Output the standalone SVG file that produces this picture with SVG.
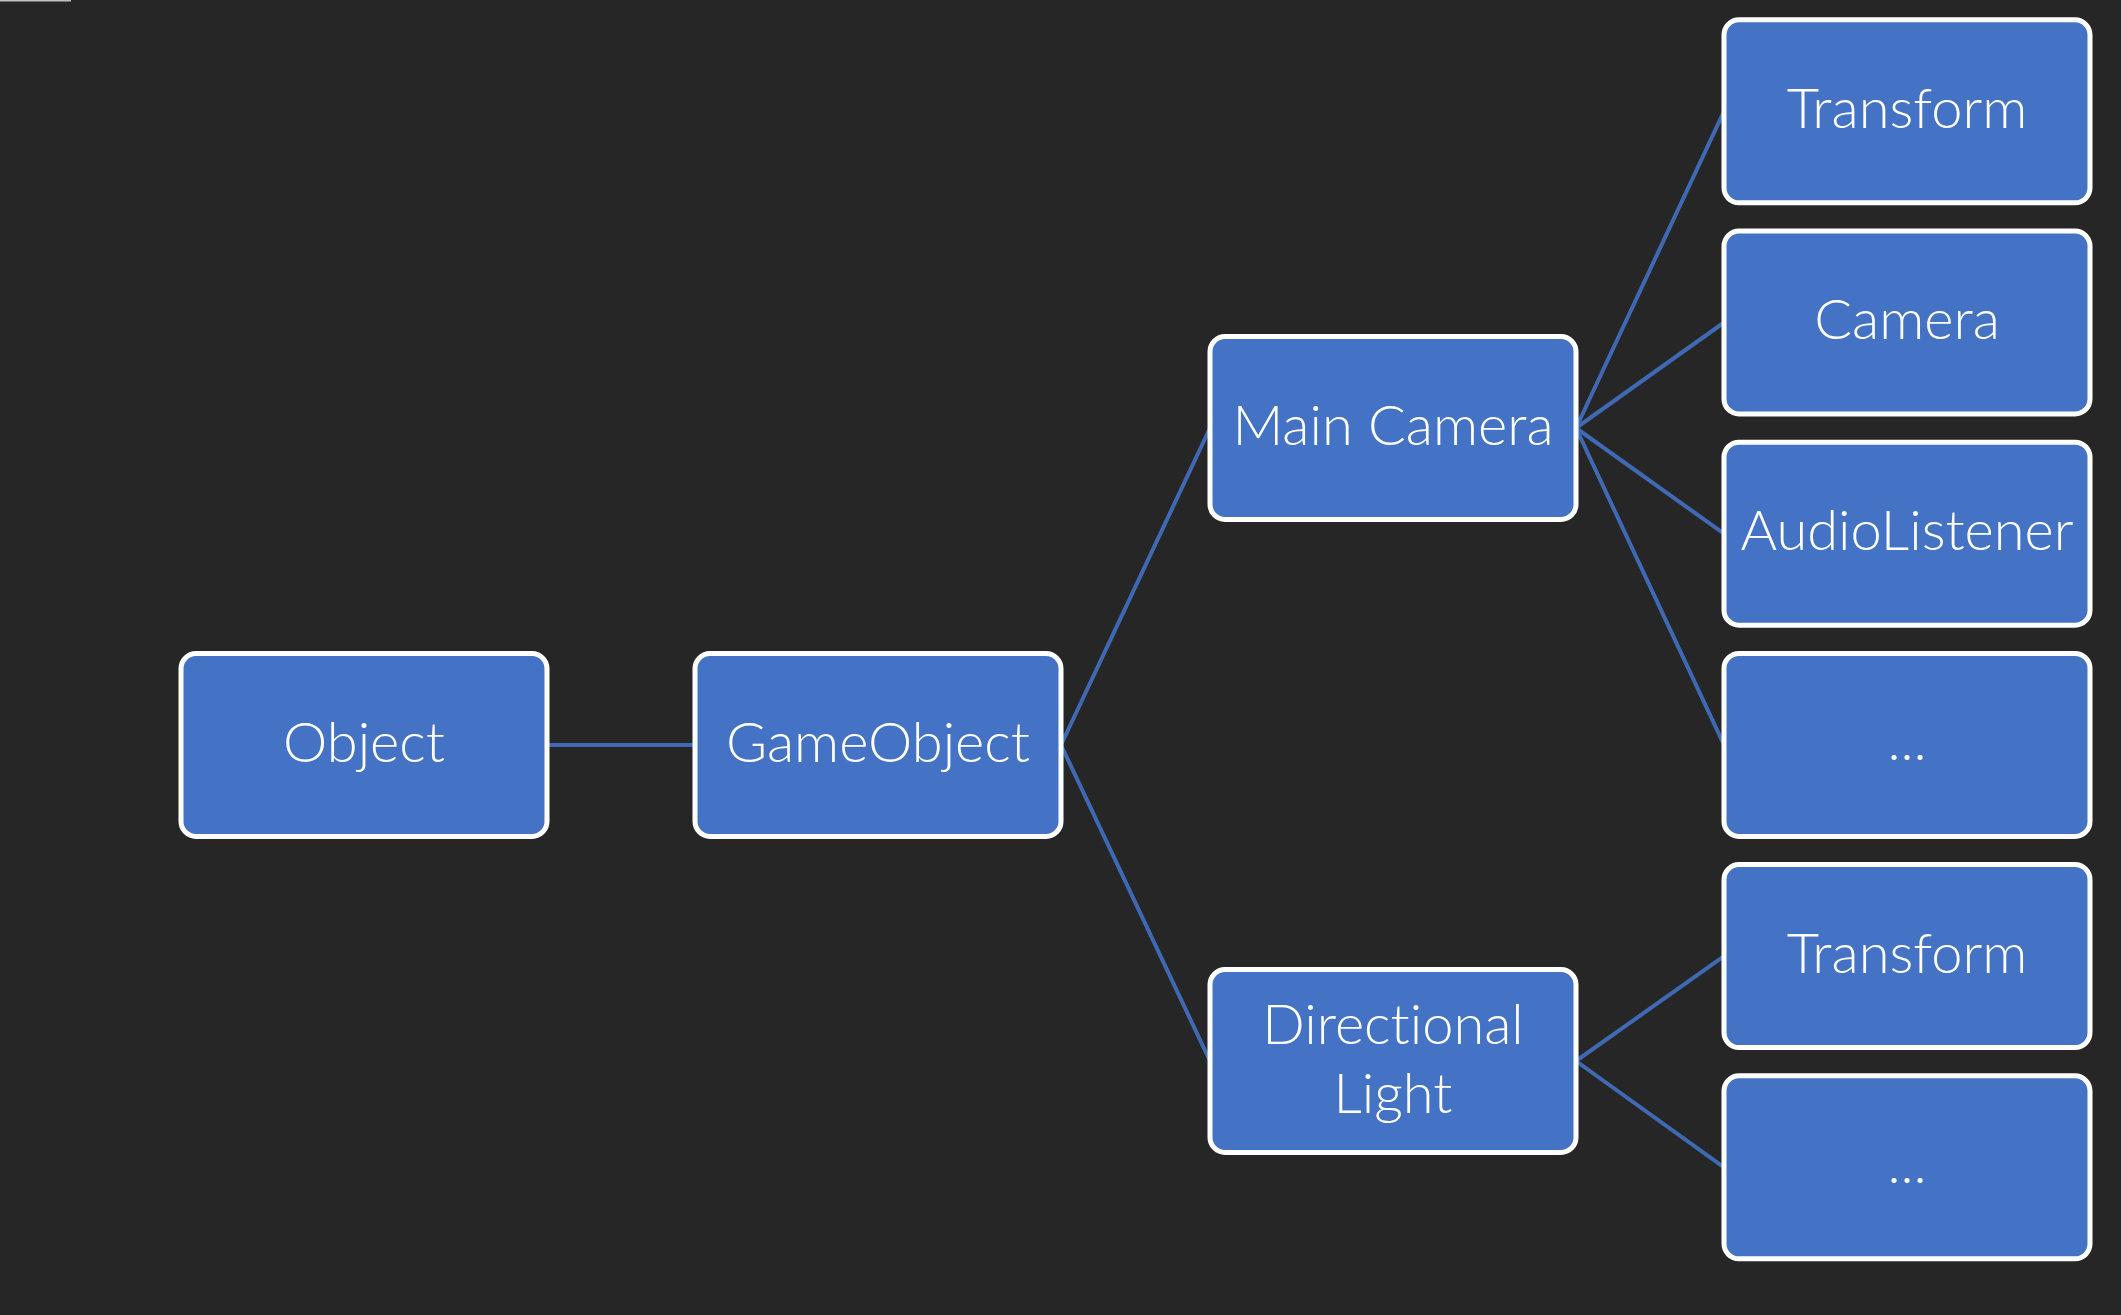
<svg xmlns="http://www.w3.org/2000/svg" width="2121" height="1315" viewBox="0 0 2121 1315">
  <style>
    .box { fill: #4472c4; stroke: #ffffff; stroke-width: 5; }
    .lbl { font-family: Lato, "Liberation Sans", "Noto Sans", sans-serif; font-weight: 300; font-size: 56px; fill: #ffffff; text-anchor: middle; font-variant-ligatures: none; }
    .conn line { stroke: #3f69b3; stroke-width: 4; stroke-linecap: butt; }
  </style>
  <rect x="0" y="0" width="2121" height="1315" fill="#262626"/>
  <rect x="0" y="0" width="71" height="1.5" fill="#bfbfbf"/>

  <g id="connectors" class="conn">
    <line x1="547" y1="745" x2="695" y2="745"/>
    <line x1="1061" y1="745" x2="1210" y2="428"/>
    <line x1="1061" y1="745" x2="1210" y2="1061"/>
    <line x1="1576" y1="428" x2="1724" y2="111.3"/>
    <line x1="1576" y1="428" x2="1724" y2="322.5"/>
    <line x1="1576" y1="428" x2="1724" y2="533.7"/>
    <line x1="1576" y1="428" x2="1724" y2="744.9"/>
    <line x1="1576" y1="1061" x2="1724" y2="956.1"/>
    <line x1="1576" y1="1061" x2="1724" y2="1167.3"/>
  </g>

  <g id="node-object">
    <rect class="box" x="181" y="653.5" width="366" height="183" rx="15"/>
    <text class="lbl" x="364" y="762">Object</text>
  </g>
  <g id="node-gameobject">
    <rect class="box" x="695" y="653.5" width="366" height="183" rx="15"/>
    <text class="lbl" x="878" y="762">GameObject</text>
  </g>
  <g id="node-maincamera">
    <rect class="box" x="1210" y="336.5" width="366" height="183" rx="15"/>
    <text class="lbl" x="1393" y="445">Main Camera</text>
  </g>
  <g id="node-directionallight">
    <rect class="box" x="1210" y="969.5" width="366" height="183" rx="15"/>
    <text class="lbl" x="1393" y="1044">Directional</text>
    <text class="lbl" x="1393" y="1113">Light</text>
  </g>
  <g id="node-transform-1">
    <rect class="box" x="1724" y="19.8" width="366" height="183" rx="15"/>
    <text class="lbl" x="1907" y="128">Transform</text>
  </g>
  <g id="node-camera">
    <rect class="box" x="1724" y="231" width="366" height="183" rx="15"/>
    <text class="lbl" x="1907" y="339">Camera</text>
  </g>
  <g id="node-audiolistener">
    <rect class="box" x="1724" y="442.2" width="366" height="183" rx="15"/>
    <text class="lbl" x="1907" y="550">AudioListener</text>
  </g>
  <g id="node-more-1">
    <rect class="box" x="1724" y="653.4" width="366" height="183" rx="15"/>
    <text class="lbl" x="1907" y="760">...</text>
  </g>
  <g id="node-transform-2">
    <rect class="box" x="1724" y="864.6" width="366" height="183" rx="15"/>
    <text class="lbl" x="1907" y="973">Transform</text>
  </g>
  <g id="node-more-2">
    <rect class="box" x="1724" y="1075.8" width="366" height="183" rx="15"/>
    <text class="lbl" x="1907" y="1183">...</text>
  </g>
</svg>
